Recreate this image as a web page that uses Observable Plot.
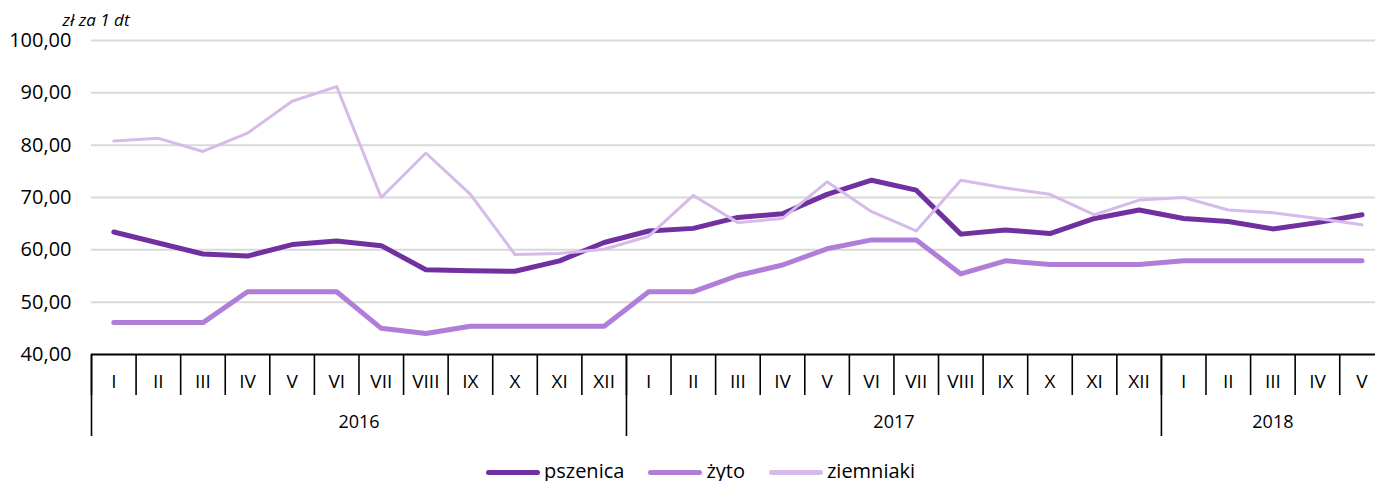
<!DOCTYPE html>
<html>
<head>
<meta charset="utf-8">
<script src="https://cdn.jsdelivr.net/npm/d3@7"></script>
<script src="https://cdn.jsdelivr.net/npm/@observablehq/plot@0.6"></script>
<style>
  html, body { margin: 0; padding: 0; background: #fff; overflow: hidden; }
  #legend { display: flex; align-items: center; height: 30px; margin-top: 7px; padding-left: 486px;
            font-family: "Open Sans", sans-serif; font-size: 20px; color: #000; }
  #legend .item { display: flex; align-items: center; margin-right: 24px; }
  #legend .sw { width: 54px; height: 5px; border-radius: 3px; margin-right: 4px; }
  #legend .lab { position: relative; top: -2px; }
</style>
</head>
<body>
<div id="chart"></div>
<div id="legend"></div>
<script>
const months = ["I","II","III","IV","V","VI","VII","VIII","IX","X","XI","XII",
                "I","II","III","IV","V","VI","VII","VIII","IX","X","XI","XII",
                "I","II","III","IV","V"];
const years = ["2016", "2017", "2018"];
const monthsPerYear = [12, 12, 5];
const yTicks = [40, 50, 60, 70, 80, 90, 100];
const unitLabel = "zł za 1 dt";

const pszenica = [63.4, 61.3, 59.2, 58.8, 61.0, 61.7, 60.8, 56.2, 56.0, 55.9, 57.9, 61.4,
                  63.6, 64.1, 66.2, 66.9, 70.6, 73.3, 71.4, 63.0, 63.8, 63.1, 66.0, 67.6,
                  66.0, 65.4, 64.0, 65.2, 66.7];
const zyto = [46.1, 46.1, 46.1, 52.0, 52.0, 52.0, 45.0, 44.0, 45.4, 45.4, 45.4, 45.4,
              52.0, 52.0, 55.1, 57.1, 60.2, 61.9, 61.9, 55.4, 57.9, 57.2, 57.2, 57.2,
              57.9, 57.9, 57.9, 57.9, 57.9];
const ziemniaki = [80.8, 81.3, 78.8, 82.3, 88.4, 91.2, 70.0, 78.5, 70.6, 59.1, 59.3, 60.1,
                   62.6, 70.4, 65.2, 66.0, 73.0, 67.3, 63.6, 73.3, 71.8, 70.6, 66.7, 69.5,
                   70.0, 67.6, 67.1, 66.0, 64.8];

const seriesNames = ["pszenica", "żyto", "ziemniaki"];
const seriesValues = [pszenica, zyto, ziemniaki];
const seriesColors = ["#7030a0", "#b07ed8", "#d6bbea"];
const seriesWidths = [5, 5, 3];

const n = months.length;
const yearStarts = d3.cumsum([0, ...monthsPerYear.slice(0, -1)]).map(d => d);
const yearCenters = years.map((y, k) => yearStarts[k] + monthsPerYear[k] / 2);
const yearLabelAt = new Map(yearCenters.map((c, k) => [c, years[k]]));

const lineMarks = seriesNames.map((name, s) =>
  Plot.line(seriesValues[s].map((v, i) => ({x: i + 0.5, y: v})), {
    x: "x", y: "y", stroke: seriesColors[s], strokeWidth: seriesWidths[s],
    strokeLinejoin: "round", strokeLinecap: "round"
  })
);

const chart = Plot.plot({
  width: 1375,
  height: 450,
  marginTop: 40,
  marginBottom: 96,
  marginLeft: 91,
  marginRight: 0,
  style: {fontFamily: "'Open Sans', sans-serif", fontSize: "19px", color: "#000", background: "#fff", overflow: "visible"},
  x: {type: "linear", domain: [0, n], range: [91, 91 + 44.58 * n]},
  y: {domain: [40, 100]},
  marks: [
    Plot.ruleY(yTicks.filter(d => d > 40), {stroke: "#d9d9d9", strokeWidth: 2}),
    Plot.axisY(yTicks, {tickSize: 0, tickPadding: 20, fontSize: 20, label: null,
      tickFormat: d => d.toFixed(2).replace(".", ",")}),
    Plot.text([unitLabel], {frameAnchor: "top-left", dx: -29, dy: -19.5, textAnchor: "start",
      lineAnchor: "middle", fontStyle: "italic", fontSize: 17}),
    ...lineMarks,
    Plot.ruleY([40], {stroke: "#000", strokeWidth: 2}),
    Plot.axisX(d3.range(0, n + 1), {tickSize: 41, strokeWidth: 1.6, tickFormat: () => "", label: null}),
    Plot.axisX(yearStarts, {tickSize: 82, strokeWidth: 1.6, tickFormat: () => "", label: null}),
    Plot.axisX(d3.range(n).map(i => i + 0.5), {tickSize: 0, tickPadding: 20, fontSize: 19, label: null,
      tickFormat: d => months[Math.floor(d)]}),
    Plot.axisX(yearCenters, {tickSize: 0, tickPadding: 61, fontSize: 18, label: null,
      tickFormat: d => yearLabelAt.get(d)})
  ]
});
document.getElementById("chart").appendChild(chart);

const legend = document.getElementById("legend");
seriesNames.forEach((name, s) => {
  const item = document.createElement("div");
  item.className = "item";
  const sw = document.createElement("div");
  sw.className = "sw";
  sw.style.background = seriesColors[s];
  const lab = document.createElement("span");
  lab.className = "lab";
  lab.textContent = name;
  item.appendChild(sw);
  item.appendChild(lab);
  legend.appendChild(item);
});
</script>
</body>
</html>
